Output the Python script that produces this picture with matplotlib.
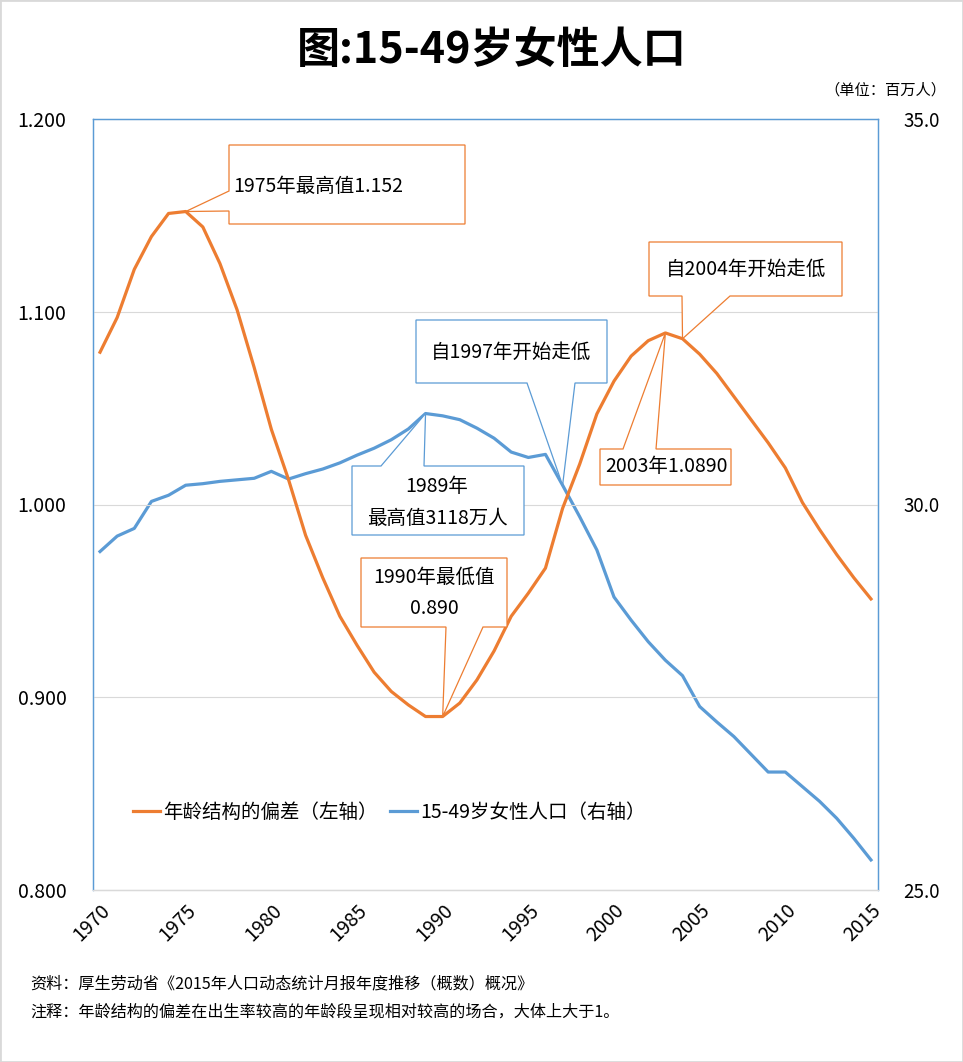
import matplotlib
matplotlib.use("Agg")
import matplotlib.pyplot as plt
from matplotlib.patches import Polygon, Rectangle

plt.rcParams['font.family'] = ['Noto Sans CJK SC', 'DejaVu Sans']

# 数据
years = list(range(1970, 2016))
age_bias = [1.079, 1.097, 1.122, 1.139, 1.151, 1.152, 1.144, 1.125, 1.101, 1.071,
            1.039, 1.013, 0.984, 0.962, 0.942, 0.927, 0.913, 0.903, 0.896, 0.890,
            0.890, 0.897, 0.909, 0.924, 0.942, 0.954, 0.967, 0.998, 1.021, 1.047,
            1.064, 1.077, 1.085, 1.089, 1.086, 1.078, 1.068, 1.056, 1.044, 1.032,
            1.019, 1.001, 0.987, 0.974, 0.962, 0.951]
women_pop = [29.39, 29.59, 29.69, 30.04, 30.12, 30.25, 30.27, 30.30, 30.32, 30.34,
             30.43, 30.33, 30.40, 30.46, 30.54, 30.64, 30.73, 30.84, 30.98, 31.18,
             31.15, 31.10, 30.99, 30.86, 30.68, 30.61, 30.65, 30.25, 29.84, 29.41,
             28.80, 28.50, 28.22, 27.98, 27.78, 27.38, 27.18, 26.99, 26.76, 26.53,
             26.53, 26.34, 26.15, 25.93, 25.67, 25.39]
left_ticks = [0.8, 0.9, 1.0, 1.1, 1.2]
right_ticks = [25.0, 30.0, 35.0]
year_ticks = list(range(1970, 2016, 5))

ORANGE = "#ED7D31"
BLUE = "#5B9BD5"
GRID = "#D9D9D9"

W, H = 963, 1062
fig = plt.figure(figsize=(W / 100, H / 100), dpi=100)
ax = fig.add_axes([93 / W, 1 - 890 / H, 785 / W, 771 / H])
ax2 = ax.twinx()

l1, = ax.plot(years, age_bias, color=ORANGE, lw=2.3, label="年龄结构的偏差（左轴）", zorder=3)
l2, = ax2.plot(years, women_pop, color=BLUE, lw=2.3, label="15-49岁女性人口（右轴）", zorder=3)
ax.set_zorder(ax2.get_zorder() + 1)
ax.patch.set_visible(False)

ax.set_xlim(1969.59, 2015.41)
ax.set_ylim(0.8, 1.2)
ax2.set_ylim(25, 35)

ax.set_yticks(left_ticks)
ax.set_yticklabels(["%.3f" % v for v in left_ticks], fontsize=14)
ax2.set_yticks(right_ticks)
ax2.set_yticklabels(["%.1f" % v for v in right_ticks], fontsize=13.5)
ax.set_xticks(year_ticks)
ax.set_xticklabels([str(y) for y in year_ticks], fontsize=14, rotation=45,
                   ha="right", va="top", rotation_mode="anchor")
ax.tick_params(axis="both", length=0)
ax.tick_params(axis="y", pad=19)
ax.tick_params(axis="x", pad=7)
ax2.tick_params(axis="y", length=0, pad=18)

ax.grid(axis="y", color=GRID, lw=0.8)
ax.set_axisbelow(True)
for a in (ax, ax2):
    for s in ("left", "right", "top"):
        a.spines[s].set_color(BLUE)
        a.spines[s].set_linewidth(0.9)
    a.spines["bottom"].set_color(GRID)
    a.spines["bottom"].set_linewidth(0.9)

ax.legend(handles=[l1, l2], loc="center", bbox_to_anchor=(389 / W, 1 - 812 / H),
          bbox_transform=fig.transFigure, ncol=2, frameon=False, fontsize=14,
          handlelength=1.4, handletextpad=0.15, columnspacing=0.65)


def to_px(axis, x, y):
    d = axis.transData.transform((x, y))
    return d[0], H - d[1]


def callout(box, side, gap, tip, color):
    x0, y0, x1, y1 = box
    tx, ty = tip
    if side == "bottom":
        pts = [(x0, y0), (x1, y0), (x1, y1), (gap[1], y1), (tx, ty), (gap[0], y1), (x0, y1)]
    elif side == "top":
        pts = [(x0, y0), (gap[0], y0), (tx, ty), (gap[1], y0), (x1, y0), (x1, y1), (x0, y1)]
    else:
        pts = [(x0, y0), (x1, y0), (x1, y1), (x0, y1), (x0, gap[1]), (tx, ty), (x0, gap[0])]
    fig.add_artist(Polygon([(x / W, 1 - y / H) for x, y in pts], closed=True,
                           transform=fig.transFigure, fc="white", ec=color,
                           lw=0.9, zorder=5))


def label(x, y, s, ha="center"):
    fig.text(x / W, 1 - y / H, s, ha=ha, va="center", fontsize=14, zorder=6)


i = years.index
callout((229, 145, 465, 224), "left", (191, 211), to_px(ax, 1975, age_bias[i(1975)]), ORANGE)
label(233, 186, "1975年最高值1.152", ha="left")

callout((416, 320, 607, 383), "bottom", (527, 575), to_px(ax2, 1997, women_pop[i(1997)]), BLUE)
label(511, 352, "自1997年开始走低")

callout((649, 242, 842, 296), "bottom", (682, 730), to_px(ax, 2004, age_bias[i(2004)]), ORANGE)
label(746, 269, "自2004年开始走低")

callout((600, 449, 731, 485), "top", (623, 656), to_px(ax, 2003, age_bias[i(2003)]), ORANGE)
label(666, 467, "2003年1.0890")

callout((352, 466, 524, 535), "top", (381, 424), to_px(ax2, 1989, women_pop[i(1989)]), BLUE)
label(437, 486, "1989年")
label(437, 518, "最高值3118万人")

callout((361, 558, 507, 627), "bottom", (446, 483), to_px(ax, 1990, age_bias[i(1990)]), ORANGE)
label(434, 577, "1990年最低值")
label(434, 608, "0.890")

fig.text(492 / W, 1 - 50 / H, "图:15-49岁女性人口", ha="center", va="center",
         fontsize=31, fontweight="bold")
fig.text(946 / W, 1 - 90 / H, "（单位：百万人）", ha="right", va="center", fontsize=11)
fig.text(30 / W, 1 - 984 / H, "资料：厚生劳动省《2015年人口动态统计月报年度推移（概数）概况》",
         ha="left", va="center", fontsize=11.6)
fig.text(30 / W, 1 - 1012 / H, "注释：年龄结构的偏差在出生率较高的年龄段呈现相对较高的场合，大体上大于1。",
         ha="left", va="center", fontsize=11.6)

fig.add_artist(Rectangle((0, 0), 1, 1, transform=fig.transFigure, fill=False,
                         ec=GRID, lw=2))

fig.savefig("out.png", dpi=100)
